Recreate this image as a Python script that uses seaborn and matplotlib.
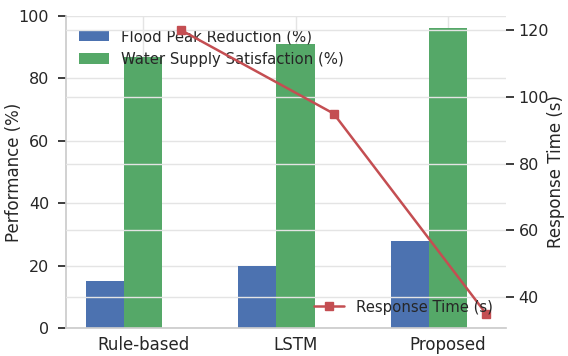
import matplotlib
matplotlib.use('Agg')
import matplotlib.pyplot as plt
import seaborn as sns
import numpy as np

# Data
methods = ['Rule-based', 'LSTM', 'Proposed']
flood_peak_reduction = [15, 20, 28]
water_supply_satisfaction = [87, 91, 96]
response_time = [120, 95, 35]

sns.set_theme(style='whitegrid', palette='deep',
              rc={'grid.color': '#e4e4e4', 'axes.edgecolor': '#cccccc'})
plt.rcParams['font.family'] = ['DejaVu Sans']
colors = sns.color_palette('deep')

fig, ax1 = plt.subplots(figsize=(5.68, 3.56), dpi=100)

x = np.arange(len(methods))
width = 0.25

ax1.bar(x - width, flood_peak_reduction, width, label='Flood Peak Reduction (%)',
        color=colors[0], linewidth=0)
ax1.bar(x, water_supply_satisfaction, width, label='Water Supply Satisfaction (%)',
        color=colors[2], linewidth=0)
ax1.set_ylabel('Performance (%)', fontsize=12)
ax1.yaxis.set_label_coords(-0.098, 0.5)
ax1.set_ylim(0, 100)
ax1.set_xticks(x)
ax1.set_xticklabels(methods, fontsize=12)
ax1.tick_params(axis='x', pad=0)
ax1.tick_params(axis='y', labelsize=11.5, pad=6)
ax1.legend(loc='upper left', frameon=False, fontsize=10.7)

ax2 = ax1.twinx()
ax2.plot(x + width, response_time, color=colors[3], marker='s', markersize=6,
         linewidth=1.8, label='Response Time (s)')
ax2.set_ylabel('Response Time (s)', fontsize=12)
ax2.yaxis.set_label_coords(1.092, 0.5)
ax2.tick_params(axis='y', labelsize=11.5, pad=3)
ax2.legend(loc='lower right', frameon=False, fontsize=10.7)

for ax in (ax1, ax2):
    ax.spines['top'].set_visible(False)
    ax.spines['right'].set_visible(False)
ax2.spines['left'].set_visible(False)
ax2.spines['bottom'].set_visible(False)

plt.subplots_adjust(left=0.116, right=0.891, top=0.955, bottom=0.079)
plt.savefig('out.png', dpi=100)
plt.close()
